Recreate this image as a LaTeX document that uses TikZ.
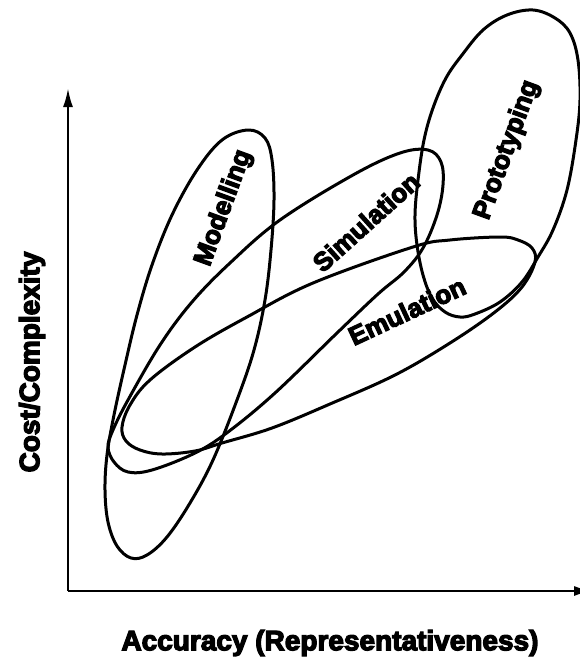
\documentclass[tikz,border=0pt]{standalone}
\usepackage{fontspec}
\newfontfamily\labfont{Liberation Sans}[BoldFont={Liberation Sans Bold},BoldFeatures={FakeBold=4.5}]
\usepackage{tikz}
\usetikzlibrary{arrows.meta}

\tikzset{
  region/.style={line width=3pt, line join=round},
  lab/.style={font={\labfont\bfseries\fontsize{26}{28}\selectfont}, inner sep=0pt},
  axistitle/.style={lab, font={\labfont\bfseries\fontsize{28}{30}\selectfont}},
  axis/.style={line width=2.4pt, -{Latex[length=19pt,width=10pt]}}
}

\begin{document}
\begin{tikzpicture}[x=1pt,y=-1pt]

		%--- frame of the page (pixel units, y downwards) ---
		\clip (0,0) rectangle (580,659);

		%--- axes ---
		\coordinate (origin) at (68,591);
		\coordinate (ytip)   at (68,88);
		\coordinate (xtip)   at (593,591);
		\draw[axis] (origin) -- (ytip);
		\draw[axis] (origin) -- (xtip);

		% modelling
		\draw[region] plot[smooth cycle, tension=0.6] coordinates {
			(248,130) (265,138) (272,160) (274,200) (271,250) (265,300)
			(254,350) (237,400) (213,460) (190,503) (167,537) (147,555)
			(131,558) (117,546) (108,522) (105,490) (107,455) (114,415)
			(125,365) (137,315) (152,265) (172,215) (197,170) (222,140)};

		% simulation
		\draw[region] plot[smooth cycle, tension=0.6] coordinates {
			(108,447) (114,462) (128,472) (152,470) (195,453) (228,432)
			(275,393) (337,333) (378,294) (404,272) (423,248) (437,215)
			(443,185) (441,162) (428,150) (400,153) (353,175) (280,220)
			(230,263) (192,302) (160,345) (128,400) (113,430)};

		% emulation
		\draw[region] plot[smooth cycle, tension=0.6] coordinates {
			(122,427) (126,441) (140,450) (162,454) (195,451) (222,443)
			(272,428) (330,404) (395,375) (450,343) (495,312) (522,287)
			(535,262) (532,248) (518,240) (500,237) (450,240) (413,247)
			(313,283) (247,317) (195,347) (150,380) (130,405)};

		% prototyping
		\draw[region] plot[smooth cycle, tension=0.6] coordinates {
			(533,10) (555,18) (570,33) (578,60) (580,100) (576,140)
			(567,190) (553,230) (538,257) (522,282) (500,302) (475,314)
			(460,317) (445,312) (432,298) (423,275) (417,245) (415,215)
			(418,180) (424,140) (433,108) (446,78) (462,55) (483,30)
			(507,15)};

		%--- labels ---
		\node[lab, rotate=70] (modlab)   at (224,208) {Modelling};
		\node[lab, rotate=42] (simlab)   at (366,222) {Simulation};
		\node[lab, rotate=25] (emulab)   at (407,311) {Emulation};
		\node[lab, rotate=70] (protolab) at (507,150) {Prototyping};

		% axis titles
		\node[axistitle, rotate=90] (costlab) at (32,362) {Cost/Complexity};
		\node[axistitle]            (acclab)  at (330,643) {Accuracy (Representativeness)};

\end{tikzpicture}
\end{document}
